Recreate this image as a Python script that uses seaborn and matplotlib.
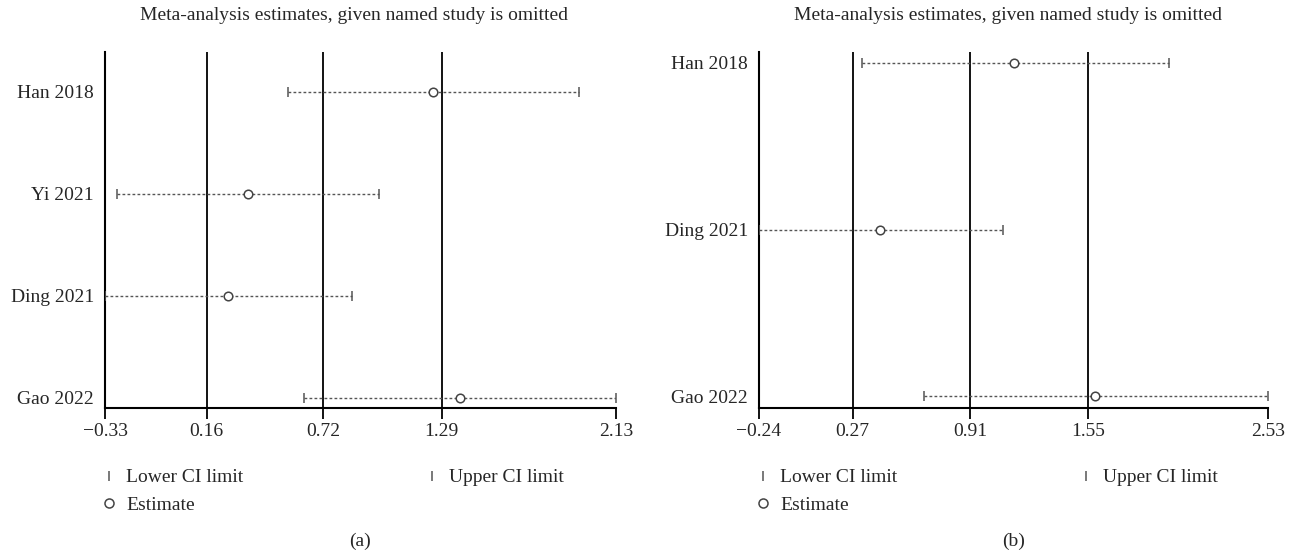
import numpy as np
import pandas as pd
import matplotlib
matplotlib.use("Agg")
import matplotlib.pyplot as plt
import seaborn as sns
from matplotlib.lines import Line2D

sns.set_theme(style="white")
plt.rcParams["font.family"] = ["Liberation Serif", "DejaVu Serif"]

# Panel (a): leave-one-out estimates
studies_a = ["Han 2018", "Yi 2021", "Ding 2021", "Gao 2022"]
est_a = [1.25, 0.36, 0.26, 1.38]
lower_a = [0.55, -0.27, -0.33, 0.63]
upper_a = [1.95, 0.99, 0.86, 2.13]
pooled_a = [0.16, 0.72, 1.29]          # pooled lower CI, estimate, upper CI
ticks_a = [-0.33, 0.16, 0.72, 1.29, 2.13]

# Panel (b): leave-one-out estimates
studies_b = ["Han 2018", "Ding 2021", "Gao 2022"]
est_b = [1.15, 0.42, 1.59]
lower_b = [0.32, -0.24, 0.66]
upper_b = [1.99, 1.09, 2.53]
pooled_b = [0.27, 0.91, 1.55]
ticks_b = [-0.24, 0.27, 0.91, 1.55, 2.53]

FS = 14
GREY = "#555555"

fig = plt.figure(figsize=(13, 5.57), dpi=100)


def fmt(v):
    return f"{v:.2f}".replace("-", "\u2212")


def forest(rect, studies, est, lower, upper, pooled, ticks, ylim, caption):
    ax = fig.add_axes(rect)
    df = pd.DataFrame({"study": studies, "pos": np.arange(len(studies)),
                       "est": est, "lower": lower, "upper": upper})
    for x in pooled:
        ax.axvline(x, color="black", lw=1.3, zorder=1)
    ax.hlines(df["pos"], df["lower"], df["upper"], colors=GREY,
              linestyles=(0, (2.0, 1.6)), lw=1.0, zorder=2)
    limits = df.melt(id_vars="pos", value_vars=["lower", "upper"])
    sns.scatterplot(data=limits, x="value", y="pos", marker="|", s=55,
                    color=GREY, linewidth=1.1, ax=ax, legend=False, zorder=3)
    sns.scatterplot(data=df, x="est", y="pos", marker="o", s=38,
                    facecolor="white", edgecolor="#444444", linewidth=1.1,
                    ax=ax, legend=False, zorder=4)
    ax.set_xlim(ticks[0], ticks[-1])
    ax.set_ylim(*ylim)
    ax.set_xticks(ticks)
    ax.set_xticklabels([fmt(t) for t in ticks], fontsize=FS)
    ax.set_yticks(df["pos"])
    ax.set_yticklabels(studies, fontsize=FS)
    ax.set_xlabel("")
    ax.set_ylabel("")
    for side in ("top", "right"):
        ax.spines[side].set_visible(False)
    for side in ("left", "bottom"):
        ax.spines[side].set_color("black")
        ax.spines[side].set_linewidth(1.5)
    ax.tick_params(axis="x", direction="out", length=8, width=1.3,
                   color="black", pad=3, bottom=True)
    ax.tick_params(axis="y", length=0, pad=8)
    ax.grid(False)

    x0, y0, w, h = rect
    fig.text(x0 + w / 2 - 6 / 1300, 1 - 15 / 557,
             "Meta-analysis estimates, given named study is omitted",
             ha="center", va="center", fontsize=FS)
    fig.text(x0 + w / 2, 1 - 541 / 557, caption, ha="center", va="center", fontsize=FS)

    handles = [
        Line2D([], [], ls="none", marker="|", color=GREY, markersize=7, mew=1.1,
               label="Lower CI limit"),
        Line2D([], [], ls="none", marker="o", mfc="white", mec="#444444",
               markersize=6.5, mew=1.1, label="Estimate"),
        Line2D([], [], ls="none", marker="|", color=GREY, markersize=7, mew=1.1,
               label="Upper CI limit"),
    ]
    fig.legend(handles=handles, ncol=2, loc="upper left",
               bbox_to_anchor=(x0 - 12 / 1300, 1 - 461 / 557), frameon=False,
               fontsize=FS, handlelength=0.8, handletextpad=0.5,
               columnspacing=9.3, labelspacing=0.5, borderaxespad=0)
    return ax


forest([105 / 1300, 1 - 408 / 557, 511 / 1300, 356 / 557],
       studies_a, est_a, lower_a, upper_a, pooled_a, ticks_a, (3.1, -0.39), "(a)")
forest([759 / 1300, 1 - 408 / 557, 509 / 1300, 356 / 557],
       studies_b, est_b, lower_b, upper_b, pooled_b, ticks_b, (2.07, -0.066), "(b)")

fig.savefig("out.png", dpi=100, facecolor="white")
